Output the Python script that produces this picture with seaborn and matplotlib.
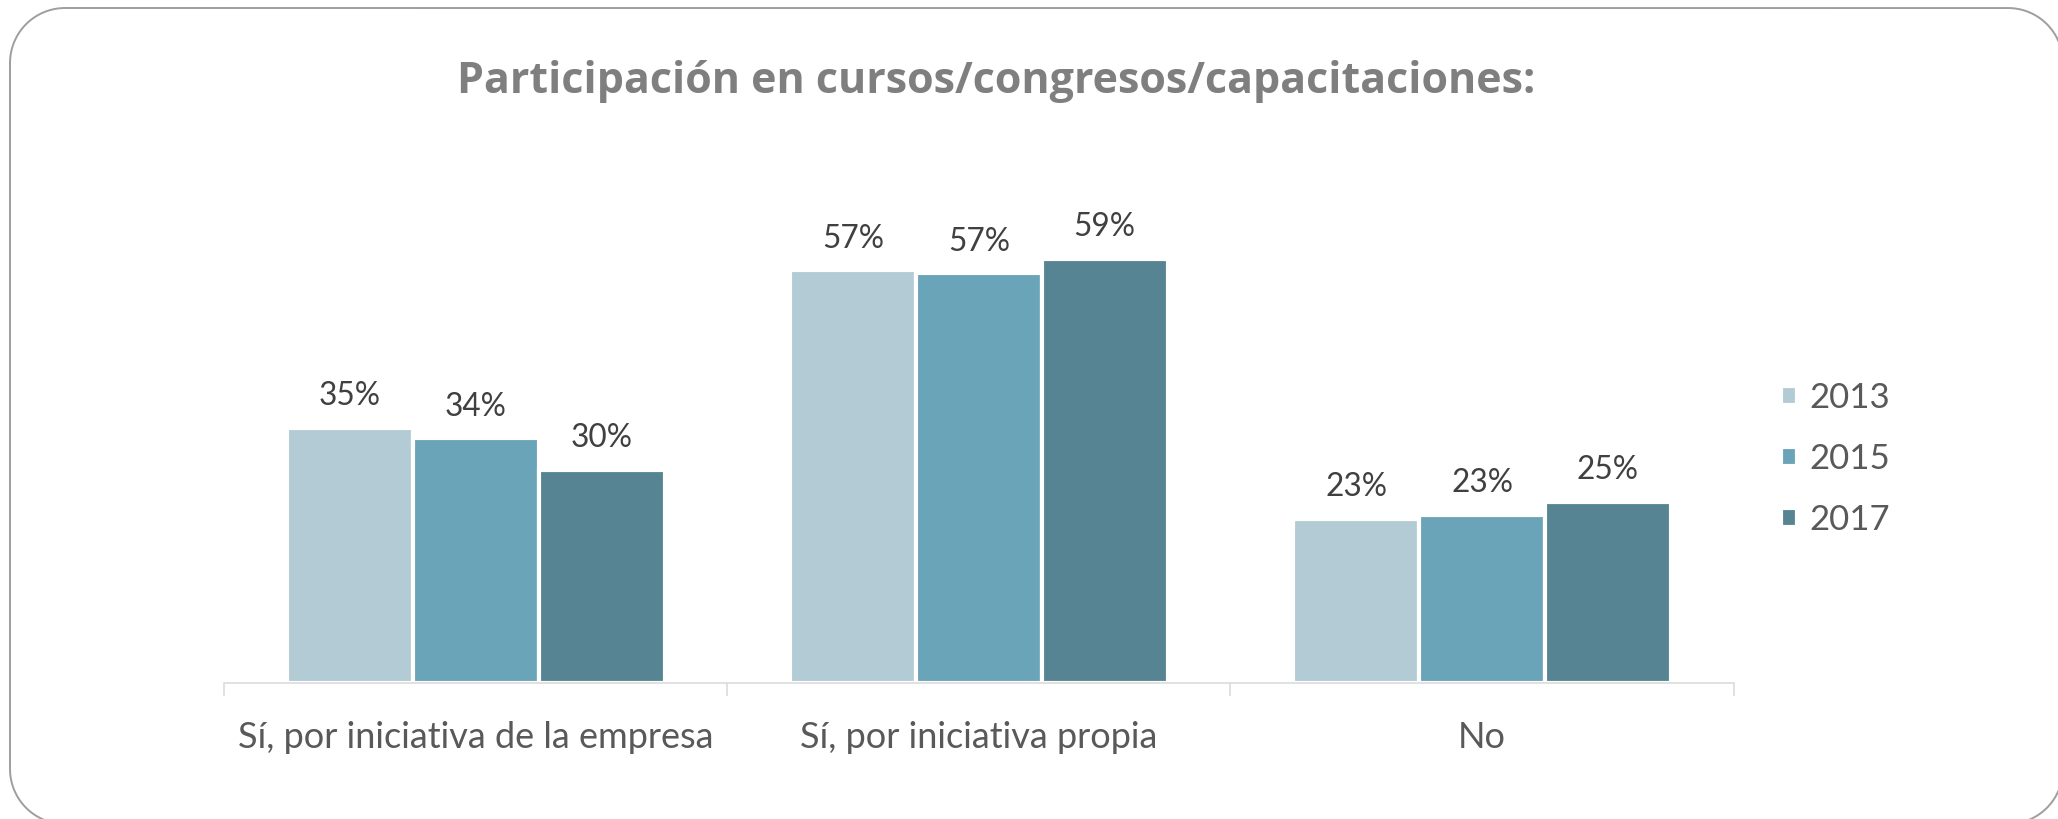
import matplotlib
matplotlib.use("Agg")
import matplotlib.pyplot as plt
import numpy as np
import seaborn as sns
import pandas as pd

# ---- data ----
categories = ["Sí, por iniciativa de la empresa", "Sí, por iniciativa propia", "No"]
years = ["2013", "2015", "2017"]
values_2013 = [35.4, 57.3, 22.8]
values_2015 = [34.0, 56.9, 23.4]
values_2017 = [29.6, 58.9, 25.2]
title_text = "Participación en cursos/congresos/capacitaciones:"

colors = ["#B3CBD4", "#6AA4B9", "#568493"]

rows = []
for yr, vals in zip(years, [values_2013, values_2015, values_2017]):
    for cat, v in zip(categories, vals):
        rows.append({"cat": cat, "year": yr, "val": v})
df = pd.DataFrame(rows)

sns.set_style("white")
plt.rcParams["font.family"] = ["Lato", "DejaVu Sans"]

W, H = 2058, 819
fig = plt.figure(figsize=(W / 100, H / 100), dpi=100)

# background axes in pixel units for the rounded frame (polyline, no beziers)
bg = fig.add_axes([0, 0, 1, 1], zorder=-10)
bg.set_xlim(0, W)
bg.set_ylim(H, 0)
bg.axis("off")
x0, y0, x1, y1, r = 10, 8, 2063, 824, 55
def arc(cx, cy, a0, a1, n=40):
    t = np.linspace(np.radians(a0), np.radians(a1), n)
    return cx + r * np.cos(t), cy + r * np.sin(t)
segs = [arc(x0 + r, y0 + r, 180, 270), arc(x1 - r, y0 + r, 270, 360),
        arc(x1 - r, y1 - r, 0, 90), arc(x0 + r, y1 - r, 90, 180)]
bx = np.concatenate([s[0] for s in segs] + [segs[0][0][:1]])
by = np.concatenate([s[1] for s in segs] + [segs[0][1][:1]])
bg.plot(bx, by, color="#9e9e9e", linewidth=1.4, clip_on=True,
        solid_joinstyle="round")

ax = fig.add_axes([224.3 / W, 1 - 683 / H, 1509.3 / W, 504 / H])
ax.patch.set_alpha(0)

sns.barplot(data=df, x="cat", y="val", hue="year", order=categories,
            hue_order=years, palette=colors, saturation=1, width=0.75,
            edgecolor="white", linewidth=3, ax=ax, errorbar=None)

ax.set_xlim(-0.5, 2.5)
ax.set_ylim(0, 70)
ax.set_xlabel("")
ax.set_ylabel("")
ax.set_yticks([])
for s in ["left", "right", "top"]:
    ax.spines[s].set_visible(False)
ax.spines["bottom"].set_color("#d9d9d9")
ax.spines["bottom"].set_linewidth(1.1)

# category labels (major, no tick) and boundary ticks (minor)
ax.set_xticks([0, 1, 2])
ax.set_xticklabels(categories, fontsize=26, color="#595959")
ax.tick_params(axis="x", which="major", length=0, pad=27)
ax.set_xticks([-0.5, 0.5, 1.5, 2.5], minor=True)
ax.tick_params(axis="x", which="minor", bottom=True, length=9.4, width=1.1,
               color="#d9d9d9", direction="out")

# value labels
for cont in ax.containers:
    for rect in cont:
        h = rect.get_height()
        ax.annotate(f"{h:.0f}%", (rect.get_x() + rect.get_width() / 2, h),
                    xytext=(0, 16.3), textcoords="offset points",
                    ha="center", va="baseline", fontsize=22.8, color="#404040")

# legend
handles, labels = ax.get_legend_handles_labels()
if ax.get_legend() is not None:
    ax.get_legend().remove()
fig.legend(handles, labels, loc="center left",
           bbox_to_anchor=(1781 / W, 1 - 459 / H), bbox_transform=fig.transFigure,
           frameon=False, fontsize=25, labelcolor="#595959",
           handlelength=0.46, handleheight=0.46, handletextpad=0.37,
           labelspacing=0.83, borderpad=0, borderaxespad=0)

# title
fig.text(996 / W, 1 - 93.3 / H, title_text, ha="center", va="baseline",
         fontsize=31, fontweight="bold", color="#7f7f7f",
         family=["Open Sans", "DejaVu Sans"])

fig.savefig("out.png", dpi=100)
